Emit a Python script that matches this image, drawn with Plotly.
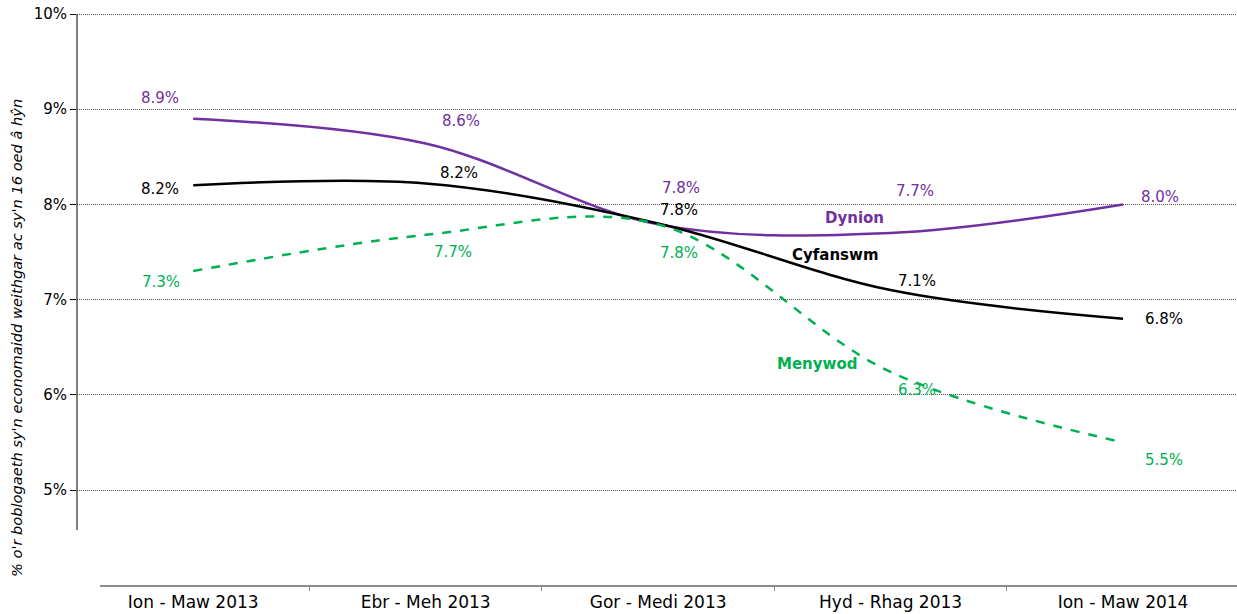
import plotly.graph_objects as go

categories = ["Ion - Maw 2013", "Ebr - Meh 2013", "Gor - Medi 2013", "Hyd - Rhag 2013", "Ion - Maw 2014"]
cyfanswm = [8.2, 8.22, 7.8, 7.1, 6.8]
dynion = [8.9, 8.64, 7.79, 7.7, 8.0]
menywod = [7.3, 7.68, 7.79, 6.24, 5.5]
cyf_labels = ["8.2%", "8.2%", "7.8%", "7.1%", "6.8%"]
dyn_labels = ["8.9%", "8.6%", "7.8%", "7.7%", "8.0%"]
men_labels = ["7.3%", "7.7%", "7.8%", "6.3%", "5.5%"]
y_ticks = [5, 6, 7, 8, 9, 10]
y_title = "% o'r boblogaeth sy'n economaidd weithgar ac sy'n 16 oed â hŷn"

BLACK = "#000000"
PURPLE = "#7030A0"
GREEN = "#00B050"
FONT = "DejaVu Sans"

xi = list(range(len(categories)))

fig = go.Figure()
fig.add_trace(go.Scatter(x=xi, y=dynion, mode="lines", line=dict(color=PURPLE, width=2.5, shape="spline", smoothing=1.0),
                         hoverinfo="skip", showlegend=False))
fig.add_trace(go.Scatter(x=xi, y=cyfanswm, mode="lines", line=dict(color=BLACK, width=2.5, shape="spline", smoothing=1.0),
                         hoverinfo="skip", showlegend=False))
fig.add_trace(go.Scatter(x=xi, y=menywod, mode="lines", line=dict(color=GREEN, width=2.5, shape="spline", smoothing=1.0, dash="dash"),
                         hoverinfo="skip", showlegend=False))

# page body margin removed by post_script, so figure coords == window coords
OFF = 0
PX_PER_PCT = 95.2
W, H = 1237 - OFF, 614 - OFF
ml, mr, mt = 77 - OFF, 0, 9 - OFF
mb = H - (586 - OFF)
pw, ph = W - ml - mr, H - mt - mb

# value label offsets (pixels)
cyf_off = [(-33, -4), (33, 10), (21, 13), (26, 9), (41, 0)]
dyn_off = [(-33, 21), (35, 22), (23, 36), (24, 42), (37, 7)]
men_off = [(-32, -11), (27, -17), (21, -29), (26, -18), (41, -18)]

ann = []
for vals, labs, offs, col in [(cyfanswm, cyf_labels, cyf_off, BLACK),
                              (dynion, dyn_labels, dyn_off, PURPLE),
                              (menywod, men_labels, men_off, GREEN)]:
    for i, (v, t, (dx, dy)) in enumerate(zip(vals, labs, offs)):
        ann.append(dict(x=i, y=v, xref="x", yref="y", text=t, showarrow=False,
                        xshift=dx, yshift=dy, font=dict(family=FONT, size=15, color=col)))

ann.append(dict(x=2.843, y=7.857, xref="x", yref="y", text="<b>Dynion</b>", showarrow=False,
                font=dict(family=FONT, size=15, color=PURPLE)))
ann.append(dict(x=2.761, y=7.468, xref="x", yref="y", text="<b>Cyfanswm</b>", showarrow=False,
                font=dict(family=FONT, size=15, color=BLACK)))
ann.append(dict(x=2.684, y=6.324, xref="x", yref="y", text="<b>Menywod</b>", showarrow=False,
                font=dict(family=FONT, size=15, color=GREEN)))
ann.append(dict(x=(16 - OFF - ml) / pw, y=(H - mb - (338 - OFF)) / ph, xref="paper", yref="paper", text=y_title,
                showarrow=False, textangle=-90, xanchor="center", yanchor="middle",
                font=dict(family=FONT, size=14.6, color="#000000", style="italic")))

x_lo, x_hi = -0.5, 4.5 - 2.25 / 232.5
x_line_start_px = 100 - OFF

y_hi = 10 + 5 / PX_PER_PCT
y_lo = 5 - (586 - 490) / PX_PER_PCT

fig.update_layout(
    width=W, height=H,
    margin=dict(l=ml, r=mr, t=mt, b=mb, autoexpand=False),
    paper_bgcolor="white", plot_bgcolor="rgba(0,0,0,0)",
    showlegend=False,
    annotations=ann,
    xaxis=dict(type="linear", range=[x_lo, x_hi], tickvals=xi, ticktext=categories, automargin=False,
               showgrid=False, zeroline=False, showline=False, ticks="", ticklabelstandoff=4,
               minor=dict(tickvals=[0.5, 1.5, 2.5, 3.5], ticks="outside", ticklen=4, tickcolor="#8c8c8c",
                          tickwidth=1, showgrid=False),
               tickfont=dict(family=FONT, size=17, color="#000000")),
    yaxis=dict(range=[y_lo, y_hi], tickvals=y_ticks, ticktext=[f"{v}%" for v in y_ticks], automargin=False,
               showgrid=True, gridcolor="#555555", griddash="1px,1px", gridwidth=1, ticklabeloverflow="allow",
               zeroline=False, showline=False, ticks="outside", ticklen=6, tickcolor="#000000",
               tickfont=dict(family=FONT, size=15, color="#000000")),
    shapes=[
        dict(type="line", xref="paper", yref="y", x0=0, x1=0, y0=5 - 40 / PX_PER_PCT, y1=10,
             line=dict(color="#000000", width=1)),
        dict(type="line", xref="paper", yref="paper", x0=(x_line_start_px - ml) / pw, x1=1, y0=0, y1=0,
             line=dict(color="#8c8c8c", width=2)),
    ],
)

fig.write_html("out.html", config={"displayModeBar": False},
               post_script="document.body.style.margin='0';")
